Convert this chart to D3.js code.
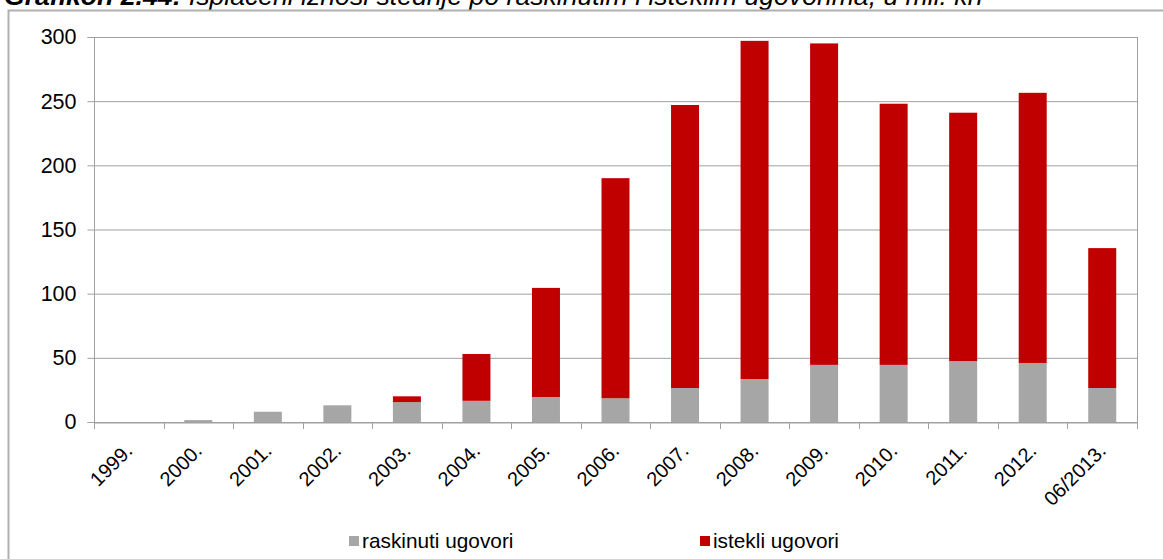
<!DOCTYPE html>
<html><head><meta charset="utf-8">
<script src="https://cdn.jsdelivr.net/npm/d3@7"></script>
<style>body{margin:0;background:#fff;}svg{display:block;font-family:"Liberation Sans",Arial,sans-serif;}</style>
</head><body>
<svg id="c" width="1163" height="559"></svg>
<script>
const categories = ["1999.","2000.","2001.","2002.","2003.","2004.","2005.","2006.","2007.","2008.","2009.","2010.","2011.","2012.","06/2013."];
const raskinuti = [0,1.5,8,13,15.5,16.5,19.5,18.5,26.5,33.5,44.5,44.5,47.5,46,26.5];
const istekli   = [0,0,0,0,4.5,36.5,85,171.5,220.5,263.5,250.5,203.5,193.5,210.5,109];
const yTicks = [0,50,100,150,200,250,300];
const seriesNames = ["raskinuti ugovori","istekli ugovori"];
const colors = ["#a6a6a6","#c00000"];

const svg = d3.select("#c");
// title (partially cut off at top, as in the reference)
const t = svg.append("text").attr("x",4).attr("y",5).attr("font-size",26.6).attr("font-style","italic").attr("fill","#000");
t.append("tspan").attr("font-weight","bold").text("Grafikon 2.44: ");
t.append("tspan").text("Isplaćeni iznosi štednje po raskinutim i isteklim ugovorima, u mil. kn");

// outer border
svg.append("rect").attr("x",8.5).attr("y",10.5).attr("width",1170).attr("height",600)
  .attr("fill","none").attr("stroke","#b0b0b0").attr("stroke-width",2);

const L=94, R=1137, T=37, B=422;
const xb = d3.scaleBand().domain(categories).range([L,R]);
const y = d3.scaleLinear().domain([0,300]).range([B,T]);

// gridlines
svg.append("g").selectAll("line").data(yTicks).join("line")
  .attr("x1",L).attr("x2",R).attr("y1",d=>y(d)+0.5).attr("y2",d=>y(d)+0.5)
  .attr("stroke","#a0a0a0").attr("stroke-width",1);
svg.append("line").attr("x1",R+0.5).attr("x2",R+0.5).attr("y1",T).attr("y2",B).attr("stroke","#a0a0a0");

// stacked bars
const data = categories.map((c,i)=>({cat:c, raskinuti:raskinuti[i], istekli:istekli[i]}));
const stack = d3.stack().keys(["raskinuti","istekli"])(data);
const bw = 28;
stack.forEach((s,si)=>{
  svg.append("g").selectAll("rect").data(s).join("rect")
    .attr("x",d=>xb(d.data.cat)+(xb.bandwidth()-bw)/2)
    .attr("width",bw)
    .attr("y",d=>y(d[1]))
    .attr("height",d=>Math.max(0,y(d[0])-y(d[1])))
    .attr("fill",colors[si]);
});

// y axis
const ya = svg.append("g").attr("transform",`translate(${L+0.5},0)`)
  .call(d3.axisLeft(y).tickValues(yTicks).tickSize(7).tickPadding(11));
ya.select(".domain").attr("stroke","#a0a0a0").attr("d",`M-7,${T+0.5}H0V${B+0.5}H-7`);
ya.selectAll(".tick line").attr("stroke","#a0a0a0");
ya.selectAll("text").attr("font-size",21.5).attr("fill","#000").attr("font-family","Liberation Sans, Arial, sans-serif");

// x axis
const xa = svg.append("g").attr("transform",`translate(0,${B+0.5})`)
  .call(d3.axisBottom(xb).tickSize(0).tickFormat(""));
xa.select(".domain").attr("stroke","#a0a0a0");
const bounds = categories.map(c=>xb(c)).concat([R]);
svg.append("g").selectAll("line").data(bounds).join("line")
  .attr("x1",d=>Math.round(d)+0.5).attr("x2",d=>Math.round(d)+0.5).attr("y1",B).attr("y2",B+7)
  .attr("stroke","#a0a0a0");
svg.append("g").selectAll("text").data(categories).join("text")
  .attr("transform",d=>`translate(${xb(d)+xb.bandwidth()/2+5},${B+30}) rotate(-45)`)
  .attr("text-anchor","end").attr("font-size",20).attr("fill","#000").text(d=>d);

// legend
const legX = [349,700];
seriesNames.forEach((n,i)=>{
  svg.append("rect").attr("x",legX[i]).attr("y",536).attr("width",10).attr("height",10).attr("fill",colors[i]);
  svg.append("text").attr("x",legX[i]+13).attr("y",548).attr("font-size",20.8).attr("fill","#000").text(n);
});
</script>
</body></html>
